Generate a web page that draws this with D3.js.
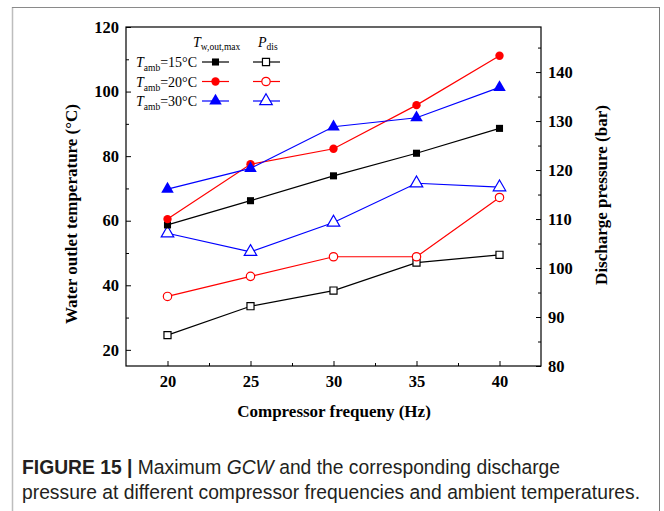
<!DOCTYPE html>
<html>
<head>
<meta charset="utf-8">
<script src="https://cdn.jsdelivr.net/npm/d3@7"></script>
<style>
  body { margin: 0; background: #fff; }
  svg { display: block; }
</style>
</head>
<body>
<svg id="chart"></svg>
<script>
// data
const freq = [20, 25, 30, 35, 40];
const tw15 = [58.7, 66.2, 73.9, 80.9, 88.6];
const tw20 = [60.5, 77.5, 82.3, 95.8, 111.1];
const tw30 = [69.8, 76.2, 89.1, 91.9, 101.3];
const pd15 = [86.3, 92.2, 95.4, 101.1, 102.7];
const pd20 = [94.2, 98.3, 102.3, 102.3, 114.4];
const pd30 = [107.1, 103.3, 109.3, 117.3, 116.5];
const ambLabels = ["15", "20", "30"];
const colors = ["#000000", "#ff0000", "#0000ff"];

const W = 664, H = 511;
const plot = {left: 126, right: 541, top: 27, bottom: 366};

const svg = d3.select("#chart").attr("width", W).attr("height", H);

// outer figure frame
svg.append("line").attr("x1", 12.5).attr("x2", 12.5).attr("y1", 7).attr("y2", H)
  .attr("stroke", "#bdbdbd").attr("stroke-width", 1.5);
svg.append("line").attr("x1", 12).attr("x2", 659.5).attr("y1", 7.5).attr("y2", 7.5)
  .attr("stroke", "#8a8a8a").attr("stroke-width", 1);
svg.append("line").attr("x1", 659.5).attr("x2", 659.5).attr("y1", 7).attr("y2", H)
  .attr("stroke", "#7a7a7a").attr("stroke-width", 1);

const x = d3.scaleLinear().domain([17.5, 42.5]).range([plot.left, plot.right]);
const yT = d3.scaleLinear().domain([15, 120]).range([plot.bottom, plot.top]);
const yP = d3.scaleLinear().domain([80, 149.2]).range([plot.bottom, plot.top]);

const tickFont = "'Liberation Serif', 'Times New Roman', serif";

function styleAxis(g) {
  g.select(".domain").remove();
  g.selectAll("line").attr("stroke", "#000").attr("stroke-width", 1);
  g.selectAll("text").attr("font-family", tickFont).attr("font-weight", "bold")
    .attr("font-size", 16.5).attr("fill", "#000");
}

// bottom axis
svg.append("g").attr("transform", `translate(0,${plot.bottom})`)
  .call(d3.axisBottom(x).tickValues(freq).tickSizeInner(-5).tickSizeOuter(0).tickPadding(9))
  .call(styleAxis);
svg.append("g").attr("transform", `translate(0,${plot.bottom})`)
  .call(d3.axisBottom(x).tickValues([22.5, 27.5, 32.5, 37.5]).tickSizeInner(-3).tickSizeOuter(0).tickFormat(""))
  .call(styleAxis);

// left axis
svg.append("g").attr("transform", `translate(${plot.left},0)`)
  .call(d3.axisLeft(yT).tickValues([20, 40, 60, 80, 100, 120]).tickSizeInner(-5).tickSizeOuter(0).tickPadding(7))
  .call(styleAxis);
svg.append("g").attr("transform", `translate(${plot.left},0)`)
  .call(d3.axisLeft(yT).tickValues([30, 50, 70, 90, 110]).tickSizeInner(-3).tickSizeOuter(0).tickFormat(""))
  .call(styleAxis);

// right axis
svg.append("g").attr("transform", `translate(${plot.right},0)`)
  .call(d3.axisRight(yP).tickValues([80, 90, 100, 110, 120, 130, 140]).tickSizeInner(-5).tickSizeOuter(0).tickPadding(7))
  .call(styleAxis);
svg.append("g").attr("transform", `translate(${plot.right},0)`)
  .call(d3.axisRight(yP).tickValues([85, 95, 105, 115, 125, 135, 145]).tickSizeInner(-3).tickSizeOuter(0).tickFormat(""))
  .call(styleAxis);

// plot frame
svg.append("rect").attr("x", plot.left).attr("y", plot.top)
  .attr("width", plot.right - plot.left).attr("height", plot.bottom - plot.top)
  .attr("fill", "none").attr("stroke", "#000").attr("stroke-width", 1.2);

// axis titles
svg.append("text").attr("x", 334).attr("y", 417).attr("text-anchor", "middle")
  .attr("font-family", tickFont).attr("font-weight", "bold").attr("font-size", 17)
  .text("Compressor frequeny (Hz)");
svg.append("text").attr("transform", "translate(77,214) rotate(-90)").attr("text-anchor", "middle")
  .attr("font-family", tickFont).attr("font-weight", "bold").attr("font-size", 17)
  .text("Water outlet temperature (°C)");
svg.append("text").attr("transform", "translate(607,195) rotate(-90)").attr("text-anchor", "middle")
  .attr("font-family", tickFont).attr("font-weight", "bold").attr("font-size", 17)
  .text("Discharge pressure (bar)");

// series
const symbols = [d3.symbolSquare, d3.symbolCircle, d3.symbolTriangle];
const symSizes = [50, 55, 68];
const twSeries = [tw15, tw20, tw30];
const pdSeries = [pd15, pd20, pd30];

function drawSeries(values, yScale, i, open) {
  const pts = freq.map((f, k) => [f, values[k]]);
  svg.append("path").datum(pts)
    .attr("fill", "none").attr("stroke", colors[i]).attr("stroke-width", 1.2)
    .attr("d", d3.line().x(d => x(d[0])).y(d => yScale(d[1])));
  svg.append("g").selectAll("path").data(pts).join("path")
    .attr("transform", d => `translate(${x(d[0])},${yScale(d[1])})`)
    .attr("d", d3.symbol(symbols[i], symSizes[i]))
    .attr("fill", open ? "#fff" : colors[i])
    .attr("stroke", colors[i]).attr("stroke-width", open ? 1.2 : 0);
}
pdSeries.forEach((s, i) => drawSeries(s, yP, i, true));
twSeries.forEach((s, i) => drawSeries(s, yT, i, false));

// legend
const legend = svg.append("g").attr("font-family", tickFont).attr("font-size", 14).attr("fill", "#000");
const h1 = legend.append("text").attr("x", 193).attr("y", 47);
h1.append("tspan").attr("font-style", "italic").text("T");
h1.append("tspan").attr("font-size", 9.5).attr("dy", 3).text("w,out,max");
const h2 = legend.append("text").attr("x", 258).attr("y", 47);
h2.append("tspan").attr("font-style", "italic").text("P");
h2.append("tspan").attr("font-size", 9.5).attr("dy", 3).text("dis");

const rowY = [62, 81.5, 101];
ambLabels.forEach((lab, i) => {
  const t = legend.append("text").attr("x", 136).attr("y", rowY[i] + 5);
  t.append("tspan").attr("font-style", "italic").text("T");
  t.append("tspan").attr("font-size", 9.5).attr("dy", 4).text("amb");
  t.append("tspan").attr("dy", -4).text("=" + lab + "°C");
  [[202, 229, 215.5, false], [253, 280, 266, true]].forEach(([a, b, c, open]) => {
    legend.append("line").attr("x1", a).attr("x2", b).attr("y1", rowY[i]).attr("y2", rowY[i])
      .attr("stroke", colors[i]).attr("stroke-width", 1.2);
    legend.append("path").attr("transform", `translate(${c},${rowY[i]})`)
      .attr("d", d3.symbol(symbols[i], symSizes[i]))
      .attr("fill", open ? "#fff" : colors[i])
      .attr("stroke", colors[i]).attr("stroke-width", open ? 1.2 : 0);
  });
});

// caption
const capFont = "'Liberation Sans Narrow', 'Arial Narrow', 'Liberation Sans', Arial, sans-serif";
const cap = svg.append("g").attr("font-family", capFont).attr("font-size", 19.3).attr("fill", "#231f20");
const c1 = cap.append("text").attr("x", 22).attr("y", 474);
c1.append("tspan").attr("font-weight", "bold").text("FIGURE 15 |");
c1.append("tspan").text(" Maximum ");
c1.append("tspan").attr("font-style", "italic").text("GCW");
c1.append("tspan").text(" and the corresponding discharge");
cap.append("text").attr("x", 22).attr("y", 499)
  .text("pressure at different compressor frequencies and ambient temperatures.");
</script>
</body>
</html>
